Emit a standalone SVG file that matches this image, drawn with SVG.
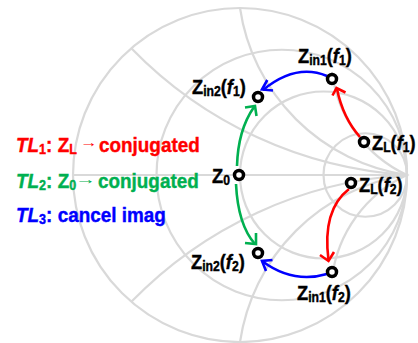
<svg xmlns="http://www.w3.org/2000/svg" width="418" height="343" viewBox="0 0 418 343">
<style>
.g{fill:none;stroke:#d9d9d9;stroke-width:2.2}
.t{font-family:"Liberation Sans",Arial,sans-serif;font-weight:bold;font-size:21px;fill:#000;stroke:#000;stroke-width:.4}
.s{font-size:14px}
.i{font-style:italic}
.n{fill:#fff;stroke:#000;stroke-width:3.500}
.c{fill:none;stroke-width:2.6}
.r{stroke:#ff0000;fill:none}.e{stroke:#00b050;fill:none}.b{stroke:#0000ff;fill:none}
.tr{fill:#ff0000;stroke:#ff0000}.te{fill:#00b050;stroke:#00b050}.tb{fill:#0000ff;stroke:#0000ff}
.ar{font-family:"Liberation Sans",Arial,sans-serif;font-size:14px;stroke:none}
</style>
<g id="chart">
<circle class="g" cx="240" cy="175" r="167"/>
<line class="g" x1="73" y1="175" x2="407" y2="175"/>
<circle class="g" cx="281.75" cy="175" r="125.25"/>
<circle class="g" cx="323.5" cy="175" r="83.5"/>
<circle class="g" cx="365.25" cy="175" r="41.75"/>
<path class="g" d="M240 8A198 198 0 0 0 407 175A198 198 0 0 0 240 342"/>
<path class="g" d="M131.3 48.2A420 420 0 0 0 407 175A420 420 0 0 0 131.3 301.8"/>
<path class="g" d="M332 72A131 131 0 0 0 407 175A131 131 0 0 0 332 278"/>
</g>
<g id="connectors">
<path class="c b" d="M327 76Q296 63 263 90"/><path class="c b" d="M267.300 80L262 89.500L273 90.500"/>
<path class="c e" d="M237 166Q238 130 254 107"/><path class="c e" d="M245 107.500L255 106L256.500 116"/>
<path class="c r" d="M360 137Q343 118 337 89"/><path class="c r" d="M332.500 95.500L336.500 88L345.500 92.500"/>
<path class="c e" d="M236 184Q238 225 255 244"/><path class="c e" d="M245 243L256 244L256 233"/>
<path class="c r" d="M349 189Q322 210 328.500 260"/><path class="c r" d="M320 255L328.500 261L334 252"/>
<path class="c b" d="M327 274Q293 284 262 261"/><path class="c b" d="M272.500 260L262 261L266 271"/>
</g>
<g id="zin1f1"><circle class="n" cx="332" cy="79" r="4.500"/>
<text class="t" transform="translate(298 63) scale(.87 1)">Z<tspan class="s" dy="2">in1</tspan><tspan dy="-2">(</tspan><tspan class="i">f</tspan><tspan class="s" dy="2">1</tspan><tspan dy="-2">)</tspan></text></g>
<g id="zin2f1"><circle class="n" cx="258" cy="97" r="4.500"/>
<text class="t" transform="translate(192 94) scale(.87 1)">Z<tspan class="s" dy="2">in2</tspan><tspan dy="-2">(</tspan><tspan class="i">f</tspan><tspan class="s" dy="2">1</tspan><tspan dy="-2">)</tspan></text></g>
<g id="zlf1"><circle class="n" cx="364" cy="142" r="4.500"/>
<text class="t" transform="translate(372 150) scale(.87 1)">Z<tspan class="s" dy="2">L</tspan><tspan dy="-2">(</tspan><tspan class="i">f</tspan><tspan class="s" dy="2">1</tspan><tspan dy="-2">)</tspan></text></g>
<g id="z0"><circle class="n" cx="239" cy="175" r="4.500"/>
<text class="t" transform="translate(212 183) scale(.87 1)">Z<tspan class="s" dy="2">0</tspan></text></g>
<g id="zlf2"><circle class="n" cx="351" cy="183" r="4.500"/>
<text class="t" transform="translate(359 192) scale(.87 1)">Z<tspan class="s" dy="2">L</tspan><tspan dy="-2">(</tspan><tspan class="i">f</tspan><tspan class="s" dy="2">2</tspan><tspan dy="-2">)</tspan></text></g>
<g id="zin2f2"><circle class="n" cx="258" cy="253" r="4.500"/>
<text class="t" transform="translate(191 269) scale(.87 1)">Z<tspan class="s" dy="2">in2</tspan><tspan dy="-2">(</tspan><tspan class="i">f</tspan><tspan class="s" dy="2">2</tspan><tspan dy="-2">)</tspan></text></g>
<g id="zin1f2"><circle class="n" cx="332" cy="272" r="4.500"/>
<text class="t" transform="translate(297 300) scale(.87 1)">Z<tspan class="s" dy="2">in1</tspan><tspan dy="-2">(</tspan><tspan class="i">f</tspan><tspan class="s" dy="2">2</tspan><tspan dy="-2">)</tspan></text></g>
<g id="legend1">
<text class="t tr" transform="translate(16 152) scale(.9 1)"><tspan class="i">TL</tspan><tspan class="s" dy="2">1</tspan><tspan dy="-2">: Z</tspan><tspan class="s" dy="2">L</tspan></text>
<text class="ar tr" transform="translate(80 147) scale(1.25 1)">→</text>
<text class="t tr" transform="translate(99 152) scale(.9 1)">conjugated</text></g>
<g id="legend2">
<text class="t te" transform="translate(16 188) scale(.9 1)"><tspan class="i">TL</tspan><tspan class="s" dy="2">2</tspan><tspan dy="-2">: Z</tspan><tspan class="s" dy="2">0</tspan></text>
<text class="ar te" transform="translate(75 183.500) scale(1.5 1)">→</text>
<text class="t te" transform="translate(98 188) scale(.9 1)">conjugated</text></g>
<g id="legend3">
<text class="t tb" transform="translate(16 222) scale(.9 1)"><tspan class="i">TL</tspan><tspan class="s" dy="2">3</tspan><tspan dy="-2">: cancel imag</tspan></text></g>
</svg>
